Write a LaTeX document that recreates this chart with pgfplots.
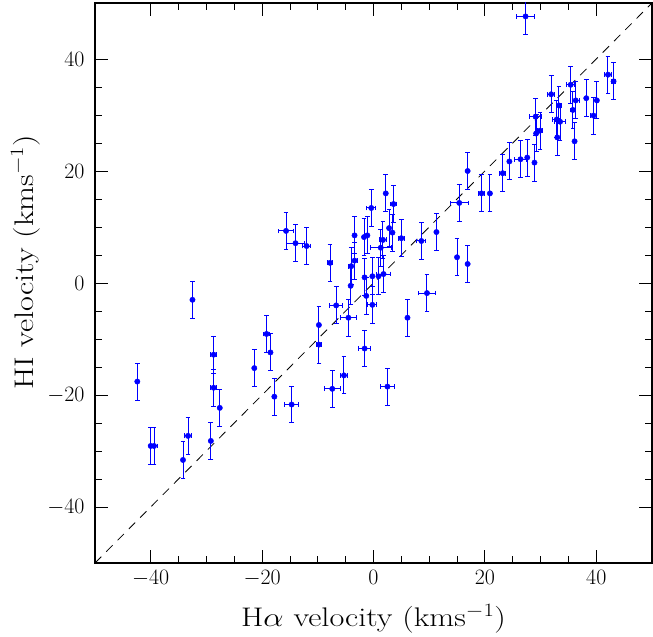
\RequirePackage{fix-cm}
\documentclass[border=0pt]{standalone}
\usepackage{graphicx}
\usepackage{pgfplots}
\pgfplotsset{compat=1.18}
\usepackage{pgfplotstable}

% H-alpha velocity, HI velocity and their errors (km/s)
\pgfplotstableread{
x      y      ex   ey
-15.7   9.3   1.4  3.3
-14.0   7.1   1.6  3.3
-12.0   6.6   0.7  3.3
 -7.8   3.6   0.5  3.3
 -4.0   3.0   0.5  3.3
 -3.4   8.5   0.0  3.3
 -3.4   4.0   0.5  3.3
 -1.7   8.2   0.0  3.3
 -1.1   8.5   0.0  3.3
 -0.4  13.4   0.8  3.3
 -4.1  -0.5   0.0  3.3
 -1.6   1.0   0.0  3.3
 -0.2   1.2   0.0  3.3
  0.9   1.2   0.0  3.3
  1.8   1.6   1.2  3.3
  2.2  16.0   0.0  3.3
  3.6  14.1   0.6  3.3
  2.8   9.8   0.0  3.3
  3.4   9.0   0.0  3.3
  1.7   7.7   0.6  3.3
  1.3   6.3   1.9  3.3
  5.0   8.0   0.5  3.3
  8.6   7.5   0.8  3.3
 11.3   9.1   0.0  3.3
 15.0   4.6   0.0  3.3
 16.9   3.4   0.0  3.3
 16.9  20.0   0.0  3.3
 15.4  14.3   1.6  3.3
 19.4  16.0   0.6  3.3
 20.9  16.0   0.0  3.3
 23.2  19.6   0.5  3.3
 24.4  21.7   0.0  3.3
 26.4  22.1   1.0  3.3
 27.6  22.4   0.0  3.3
 28.9  21.5   0.0  3.3
 29.2  26.7   0.0  3.3
 29.9  27.2   0.5  3.3
 29.1  29.7   1.1  3.3
 33.0  26.0   0.0  3.3
 32.9  29.2   0.7  3.3
 33.5  28.8   1.0  3.3
 33.3  31.7   0.5  3.3
 31.9  33.7   0.6  3.3
 35.4  35.4   0.7  3.3
 35.8  30.9   0.4  3.3
 36.3  32.6   0.6  3.3
 36.1  25.3   0.0  3.3
 38.2  33.0   0.0  3.3
 40.1  32.6   0.0  3.3
 39.5  29.9   0.6  3.3
 42.1  37.2   0.6  3.3
 43.1  36.0   0.4  3.3
 27.3  47.6   1.6  3.3
  9.6  -1.8   1.5  3.3
  6.1  -6.2   0.0  3.3
  2.5 -18.5   1.2  3.3
 -0.2  -3.9   0.8  3.3
 -1.3  -2.3   0.0  3.3
 -1.6 -11.7   1.1  3.3
 -4.5  -6.2   1.4  3.3
 -6.7  -4.0   1.2  3.3
 -5.3 -16.5   0.6  3.3
 -7.4 -18.9   1.4  3.3
 -9.8  -7.5   0.0  3.3
 -9.8 -11.0   0.4  3.3
-14.7 -21.7   1.3  3.3
-17.8 -20.3   0.0  3.3
-18.5 -12.4   0.0  3.3
-19.2  -9.1   0.6  3.3
-21.4 -15.2   0.0  3.3
-27.6 -22.3   0.0  3.3
-28.7 -18.7   0.6  3.3
-28.7 -12.8   0.6  3.3
-29.2 -28.2   0.0  3.3
-34.2 -31.6   0.0  3.3
-33.3 -27.3   0.6  3.3
-39.4 -29.1   0.6  3.3
-40.0 -29.1   0.0  3.3
-42.4 -17.6   0.0  3.3
-32.5  -3.0   0.0  3.3
}\velo

\begin{document}
\begin{tikzpicture}
\path[use as bounding box] (-95bp,-74bp) rectangle (558bp,563bp);
\begin{axis}[
  at={(0,0)}, anchor=south west,
  scale only axis, width=557bp, height=560bp,
  xmin=-50, xmax=50, ymin=-50, ymax=50,
  xtick={-40,-20,...,40}, ytick={-40,-20,...,40},
  minor tick num=3,
  tick align=inside,
  major tick length=13bp, minor tick length=7bp,
  every tick/.style={black, line width=0.8bp},
  axis line style={line width=1.2bp},
  tick label style={font=\fontsize{22}{24}\selectfont},
  xticklabel style={yshift=-4bp},
  yticklabel style={xshift=-7bp},
  xlabel={\scalebox{1.2}[1]{\fontsize{27}{30}\selectfont H$\alpha$ velocity (kms$^{-1}$)}},
  ylabel={\scalebox{1.2}[1]{\fontsize{27}{30}\selectfont HI velocity (kms$^{-1}$)}},
  x label style={at={(axis description cs:0.5,-0.1125)}, anchor=base},
  y label style={at={(axis description cs:-0.1113,0.537)}, anchor=base},
]
% one-to-one line
\addplot[black, line width=0.8bp, dash pattern=on 9bp off 7bp] coordinates {(-50,-50) (50,50)};
\addplot[blue, only marks, mark=*, mark size=2.7bp, mark options={blue},
  error bars/.cd, x dir=both, x explicit, y dir=both, y explicit,
  error bar style={blue, line width=1bp},
  error mark options={rotate=90, blue, mark size=2.4bp, line width=1bp}]
  table[x=x, y=y, x error=ex, y error=ey] {\velo};
\end{axis}
\end{tikzpicture}
\end{document}
